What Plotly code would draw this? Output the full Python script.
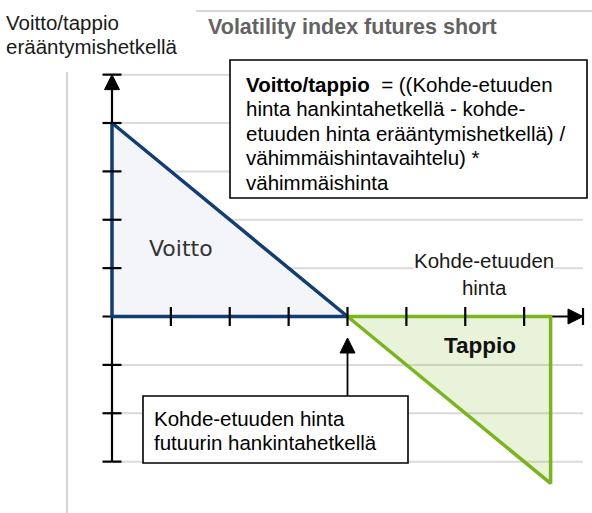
import plotly.graph_objects as go

# ---------------- data ----------------
profit_x = [0, 0, 4, 0]          # Voitto triangle (price, payoff), closed
profit_y = [4, 0, 0, 4]
loss_x = [4, 7.45, 7.45, 4]      # Tappio triangle, closed
loss_y = [0, 0, -3.45, 0]
strike = 4                       # hankintahinta
x_ticks = [1, 2, 3, 4, 5, 6, 7]
y_ticks = [-3, -2, -1, 1, 2, 3, 4]
x_axis_end = 8
y_axis_top = 5
y_axis_bottom = -3
grid_levels = [5, 4, 3, 2, 1, -1, -2, -3]

title_text = "<b>Volatility index futures short</b>"
y_label = ["Voitto/tappio", "erääntymishetkellä"]
x_label = "Kohde-etuuden<br>hinta"
formula_lines = [
    "<b>Voitto/tappio</b> \u00a0= ((Kohde-etuuden",
    "hinta hankintahetkellä - kohde-",
    "etuuden hinta erääntymishetkellä) /",
    "vähimmäishintavaihtelu) *",
    "vähimmäishinta",
]
purchase_lines = ["Kohde-etuuden hinta", "futuurin hankintahetkellä"]
profit_label = "Voitto"
loss_label = "<b>Tappio</b>"

# ---------------- layout geometry (pixels) ----------------
W, H = 592, 513
L, R, T, B = 88, 2, 55, 13
PW, PH = W - L - R, H - T - B
XS = 58.875   # px per x unit
YS = 48.375   # px per y unit
X0PX, Y0PX = 112, 316.5
xmin = -(X0PX - L) / XS
xmax = xmin + PW / XS
ymax = (Y0PX - T) / YS
ymin = ymax - PH / YS


def X(px):
    return xmin + (px - L) / XS


def Y(py):
    return ymax - (py - T) / YS


def PX(px):
    return (px - L) / PW


def PY(py):
    return (H - B - py) / PH


dx = lambda p: p / XS
dy = lambda p: p / YS

FONT = "Liberation Sans, Arial, sans-serif"
NAVY = "#113d74"
GREEN = "#7ab51d"

fig = go.Figure()

# triangles
fig.add_trace(go.Scatter(x=profit_x, y=profit_y, fill="toself", mode="lines",
                         fillcolor="#f3f5f9", line=dict(color=NAVY, width=3.5),
                         hoverinfo="skip", showlegend=False))
fig.add_trace(go.Scatter(x=loss_x, y=loss_y, fill="toself", mode="lines",
                         fillcolor="rgba(122,181,29,0.17)", line=dict(color=GREEN, width=3.5),
                         hoverinfo="skip", showlegend=False))

shapes = []
# gridlines
for g in grid_levels:
    shapes.append(dict(type="line", xref="x", yref="y", x0=0, x1=x_axis_end, y0=g, y1=g,
                       line=dict(color="#dadada", width=2), layer="below"))
# axes lines
tick_half = 9.5
shapes.append(dict(type="line", xref="x", yref="y", x0=-dx(tick_half), x1=x_axis_end - dx(15),
                   y0=0, y1=0, line=dict(color="black", width=2.2), layer="below"))
shapes.append(dict(type="line", xref="x", yref="y", x0=0, x1=0, y0=y_axis_bottom,
                   y1=y_axis_top - dy(15), line=dict(color="black", width=2.2), layer="below"))
# y ticks (including bottom and top bars)
for t in y_ticks + [y_axis_top]:
    shapes.append(dict(type="line", xref="x", yref="y", x0=-dx(tick_half), x1=dx(tick_half),
                       y0=t, y1=t, line=dict(color="black", width=2.2), layer="above"))
# x ticks
for t in x_ticks:
    shapes.append(dict(type="line", xref="x", yref="y", x0=t, x1=t, y0=dy(tick_half), y1=-dy(tick_half),
                       line=dict(color="black", width=2.2), layer="above"))
# x-axis end bar
shapes.append(dict(type="line", xref="x", yref="y", x0=x_axis_end, x1=x_axis_end,
                   y0=dy(8.5), y1=-dy(8.5), line=dict(color="black", width=2.2), layer="above"))
# arrowheads
ah_len, ah_half = 15, 7.5
xa = x_axis_end
shapes.append(dict(type="path", xref="x", yref="y",
                   path=f"M {xa} 0 L {xa - dx(ah_len)} {dy(ah_half)} L {xa - dx(ah_len)} {-dy(ah_half)} Z",
                   fillcolor="black", line=dict(color="black", width=1), layer="above"))
ya = y_axis_top
shapes.append(dict(type="path", xref="x", yref="y",
                   path=f"M 0 {ya} L {dx(ah_half)} {ya - dy(ah_len)} L {-dx(ah_half)} {ya - dy(ah_len)} Z",
                   fillcolor="black", line=dict(color="black", width=1), layer="above"))
# purchase-price pointer arrow
tip_y = Y(338)
shapes.append(dict(type="line", xref="x", yref="y", x0=strike, x1=strike, y0=Y(396), y1=tip_y - dy(14),
                   line=dict(color="black", width=1.8), layer="above"))
shapes.append(dict(type="path", xref="x", yref="y",
                   path=f"M {strike} {tip_y} L {strike + dx(7.5)} {tip_y - dy(15)} L {strike - dx(7.5)} {tip_y - dy(15)} Z",
                   fillcolor="black", line=dict(color="black", width=1), layer="above"))
# boxes
shapes.append(dict(type="rect", xref="x", yref="y", x0=X(230), x1=X(587), y0=Y(60), y1=Y(198),
                   fillcolor="white", line=dict(color="black", width=1.6), layer="above"))
shapes.append(dict(type="rect", xref="x", yref="y", x0=X(143), x1=X(408), y0=Y(396), y1=Y(463),
                   fillcolor="white", line=dict(color="black", width=1.6), layer="above"))
# outer light frame lines
shapes.append(dict(type="line", xref="paper", yref="paper", x0=PX(196), x1=PX(592), y0=PY(11), y1=PY(11),
                   line=dict(color="#d6d6d6", width=2)))
shapes.append(dict(type="line", xref="paper", yref="paper", x0=PX(67), x1=PX(67), y0=PY(72), y1=PY(513),
                   line=dict(color="#d6d6d6", width=2)))

ann = []
ann.append(dict(xref="paper", yref="paper", x=PX(352), y=PY(27), text=title_text, showarrow=False,
                xanchor="center", yanchor="middle", font=dict(family=FONT, size=21.5, color="#636363")))
for i, s in enumerate(y_label):
    ann.append(dict(xref="paper", yref="paper", x=PX(4), y=PY(22 + 24 * i), text=s, showarrow=False,
                    xanchor="left", yanchor="middle", font=dict(family=FONT, size=20.5, color="#1a1a1a")))
for i, s in enumerate(formula_lines):
    ann.append(dict(xref="x", yref="y", x=X(244), y=Y(84 + 24.5 * i), text=s, showarrow=False,
                    xanchor="left", yanchor="middle", font=dict(family=FONT, size=20.5, color="black")))
for i, s in enumerate(purchase_lines):
    ann.append(dict(xref="x", yref="y", x=X(152), y=Y(418 + 24.5 * i), text=s, showarrow=False,
                    xanchor="left", yanchor="middle", font=dict(family=FONT, size=20.5, color="black")))
ann.append(dict(xref="x", yref="y", x=X(484), y=Y(274), text=x_label, showarrow=False,
                xanchor="center", yanchor="middle", bgcolor="white", borderpad=0,
                font=dict(family=FONT, size=20.5, color="#1a1a1a")))
ann.append(dict(xref="x", yref="y", x=X(181), y=Y(248), text=profit_label, showarrow=False,
                xanchor="center", yanchor="middle",
                font=dict(family="DejaVu Sans, Verdana, sans-serif", size=22, color="#333333")))
ann.append(dict(xref="x", yref="y", x=X(480), y=Y(345), text=loss_label, showarrow=False,
                xanchor="center", yanchor="middle",
                font=dict(family=FONT, size=22.5, color="#111111")))

fig.update_layout(
    width=W, height=H, margin=dict(l=L, r=R, t=T, b=B),
    paper_bgcolor="white", plot_bgcolor="white",
    xaxis=dict(range=[xmin, xmax], visible=False, fixedrange=True),
    yaxis=dict(range=[ymin, ymax], visible=False, fixedrange=True),
    shapes=shapes, annotations=ann, showlegend=False,
)

fig.write_html("out.html", config={"displayModeBar": False, "staticPlot": True},
               post_script="document.body.style.margin='0';")
